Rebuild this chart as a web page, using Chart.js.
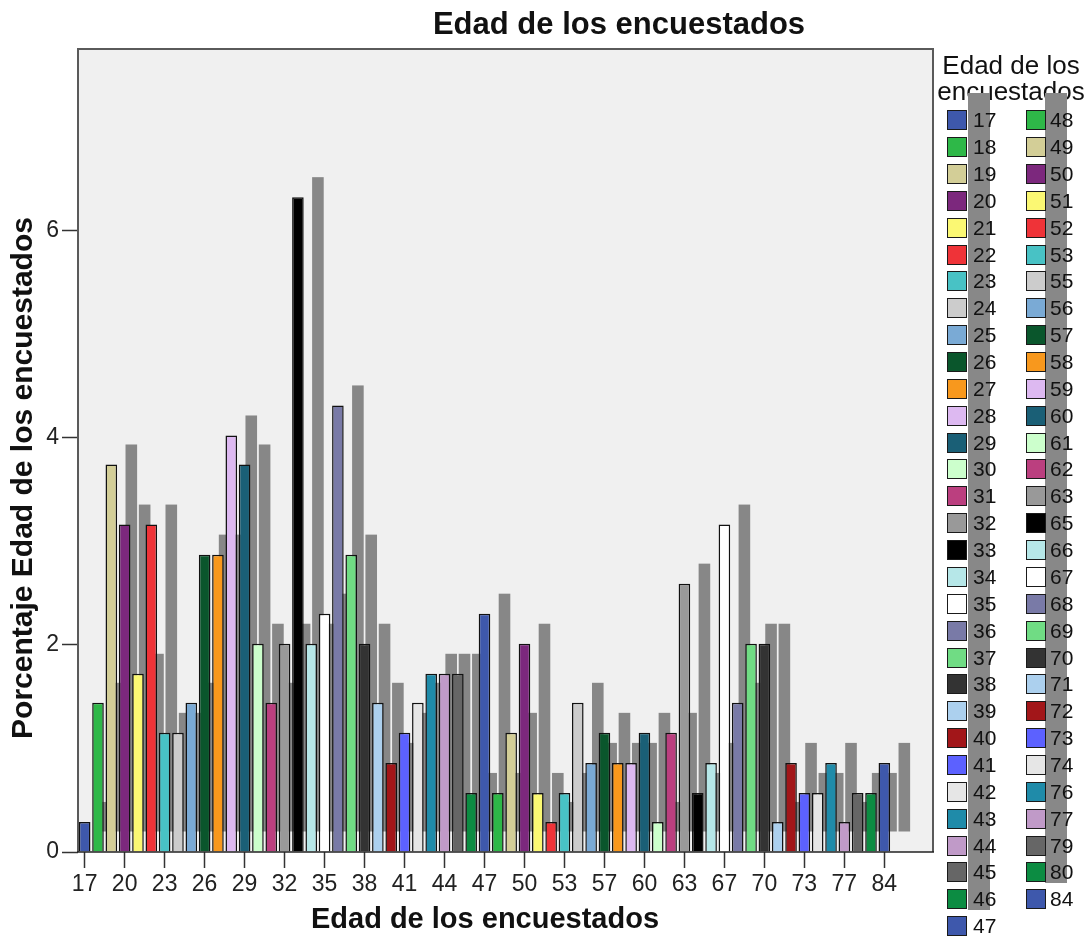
<!DOCTYPE html>
<html>
<head>
<meta charset="utf-8">
<title>Edad de los encuestados</title>
<script src="https://cdn.jsdelivr.net/npm/chart.js@4.4.1/dist/chart.umd.min.js"></script>
<style>
  html, body { margin: 0; padding: 0; background: #fff; }
  #wrap { position: relative; width: 1089px; height: 940px; font-family: "Liberation Sans", Arial, sans-serif; }
  #chart { position: absolute; left: 0; top: 0; }
  #legend { position: absolute; left: 0; top: 0; width: 1089px; height: 940px; pointer-events: none; color: #111; }
  #legend .ttl { position: absolute; left: 931px; width: 160px; text-align: center; font-size: 26px; line-height: 26px; top: 52px; z-index: 0; }
  #legend .sh { position: absolute; background: #888; z-index: 1; }
  #legend .sw { position: absolute; width: 20px; height: 20px; box-sizing: border-box; border: 1.5px solid #1a1a1a; z-index: 2; }
  #legend .lb { position: absolute; font-size: 21px; line-height: 20px; z-index: 2; }
</style>
</head>
<body>
<div id="wrap">
  <canvas id="chart" width="1089" height="940"></canvas>
  <div id="legend"></div>
</div>
<script>
// ===== Data =====
const ages = ['17','18','19','20','21','22','23','24','25','26','27','28','29','30','31','32','33','34','35','36',
  '37','38','39','40','41','42','43','44','45','46','47','48','49','50','51','52','53','55','56','57',
  '58','59','60','61','62','63','65','66','67','68','69','70','71','72','73','74','76','77','79','80','84'];
const percents = [0.29,1.44,3.74,3.16,1.72,3.16,1.15,1.15,1.44,2.87,2.87,4.02,3.74,2.01,1.44,2.01,6.32,2.01,2.30,4.31,
  2.87,2.01,1.44,0.86,1.15,1.44,1.72,1.72,1.72,0.57,2.30,0.57,1.15,2.01,0.57,0.29,0.57,1.44,0.86,1.15,
  0.86,0.86,1.15,0.29,1.15,2.59,0.57,0.86,3.16,1.44,2.01,2.01,0.29,0.86,0.57,0.57,0.86,0.29,0.57,0.57,0.86];
const yTicks = [0, 2, 4, 6];

// SPSS style colour cycle
const palette = ['#3e58ac','#2eb848','#d3ce97','#7c287d','#fbf873','#ef3338','#48c2c5','#cccccc','#7aaad5','#0a562c',
  '#f8981d','#ddb9f1','#1a5f76','#ccffcc','#bb3f7f','#999999','#000000','#b6e7e8','#ffffff','#797aa7',
  '#70dc84','#333333','#acd0ee','#a21619','#5c61ff','#e6e6e6','#1f8ba9','#c09ac8','#666666','#0c8c42'];
const colors = ages.map((_, i) => palette[i % palette.length]);

const FONT = '"Liberation Sans", Arial, sans-serif';
const DEPTH = 20;      // offset of the grey shadow bars
const EXTRA = 42;      // plot frame continues past the last category

// ===== Plugins =====
const plotBox = {
  id: 'plotBox',
  beforeDraw(chart) {
    const { ctx, chartArea: a } = chart;
    ctx.save();
    ctx.fillStyle = '#f0f0f0';
    ctx.fillRect(a.left, a.top, a.right - a.left + EXTRA, a.bottom - a.top);
    ctx.restore();
  },
  afterDraw(chart) {
    const { ctx, chartArea: a } = chart;
    ctx.save();
    ctx.strokeStyle = '#5a5a5a';
    ctx.lineWidth = 2;
    ctx.beginPath();
    ctx.moveTo(a.left, a.bottom);
    ctx.lineTo(a.left, a.top);
    ctx.lineTo(a.right + EXTRA, a.top);
    ctx.lineTo(a.right + EXTRA, a.bottom);
    ctx.stroke();
    ctx.strokeStyle = '#222';
    ctx.lineWidth = 1.5;
    ctx.beginPath();
    ctx.moveTo(a.left - 1, a.bottom);
    ctx.lineTo(a.right + EXTRA + 1, a.bottom);
    ctx.stroke();
    ctx.restore();
  }
};

const depthShadow = {
  id: 'depthShadow',
  beforeDatasetsDraw(chart) {
    const ctx = chart.ctx;
    ctx.save();
    ctx.fillStyle = '#878787';
    chart.getDatasetMeta(0).data.forEach(bar => {
      const { x, y, base, width } = bar.getProps(['x', 'y', 'base', 'width'], true);
      ctx.fillRect(x - width / 2 + DEPTH, y - DEPTH, width, base - y);
    });
    ctx.restore();
  }
};

const titles = {
  id: 'titles',
  afterDraw(chart) {
    const ctx = chart.ctx;
    ctx.save();
    ctx.fillStyle = '#111';
    ctx.textAlign = 'center';
    ctx.textBaseline = 'alphabetic';
    ctx.font = 'bold 31px ' + FONT;
    ctx.fillText('Edad de los encuestados', 619, 34);
    ctx.font = 'bold 29px ' + FONT;
    ctx.fillText('Edad de los encuestados', 485, 928);
    ctx.translate(32, 478);
    ctx.rotate(-Math.PI / 2);
    ctx.font = 'bold 30px ' + FONT;
    ctx.fillText('Porcentaje Edad de los encuestados', 0, 0);
    ctx.restore();
  }
};

// ===== Chart =====
new Chart(document.getElementById('chart'), {
  type: 'bar',
  data: {
    labels: ages,
    datasets: [{
      data: percents,
      backgroundColor: colors,
      borderColor: '#111',
      borderWidth: 1.5,
      barPercentage: 0.87,
      categoryPercentage: 1
    }]
  },
  options: {
    responsive: false,
    animation: false,
    layout: { padding: { top: 49, right: 198, left: 0, bottom: 0 } },
    plugins: { legend: { display: false }, tooltip: { enabled: false }, title: { display: false } },
    scales: {
      x: {
        offset: true,
        grid: { offset: false, drawOnChartArea: false, drawTicks: true, tickLength: 16, tickColor: '#333', tickWidth: 1.5 },
        border: { display: false },
        ticks: { autoSkip: false, maxRotation: 0, padding: 3, color: '#222', font: { family: FONT, size: 23 } },
        afterBuildTicks: s => { s.ticks = s.ticks.filter((t, i) => i % 3 === 0); },
        afterFit: s => { s.height = 88; }
      },
      y: {
        min: 0,
        max: 7.75,
        grid: { drawOnChartArea: false, drawTicks: true, tickLength: 16, tickColor: '#333', tickWidth: 1.5 },
        border: { display: false },
        ticks: { stepSize: 2, padding: 3, color: '#222', font: { family: FONT, size: 23 } },
        afterBuildTicks: s => { s.ticks = yTicks.map(v => ({ value: v })); },
        afterFit: s => { s.width = 78; }
      }
    }
  },
  plugins: [plotBox, depthShadow, titles]
});

// ===== Legend =====
const legend = document.getElementById('legend');
legend.innerHTML = '<div class="ttl">Edad de los<br>encuestados</div>';
const ROWS = 31, ROW0 = 120.3, ROWH = 26.86;
const cols = [{ sw: 947, lb: 973 }, { sw: 1026, lb: 1050 }];
ages.forEach((age, i) => {
  const c = cols[Math.floor(i / ROWS)];
  const r = i % ROWS;
  const cy = ROW0 + r * ROWH;
  const lastInCol = (i === ROWS - 1) || (i === ages.length - 1);
  if (!lastInCol) {
    const sh = document.createElement('div');
    sh.className = 'sh';
    Object.assign(sh.style, { left: (c.lb - 5) + 'px', top: (cy - 27) + 'px', width: '22px', height: '38px' });
    legend.appendChild(sh);
  }
  const sw = document.createElement('div');
  sw.className = 'sw';
  Object.assign(sw.style, { left: c.sw + 'px', top: (cy - 10) + 'px', background: colors[i] });
  legend.appendChild(sw);
  const lb = document.createElement('div');
  lb.className = 'lb';
  lb.textContent = age;
  Object.assign(lb.style, { left: c.lb + 'px', top: (cy - 10) + 'px' });
  legend.appendChild(lb);
});
</script>
</body>
</html>
